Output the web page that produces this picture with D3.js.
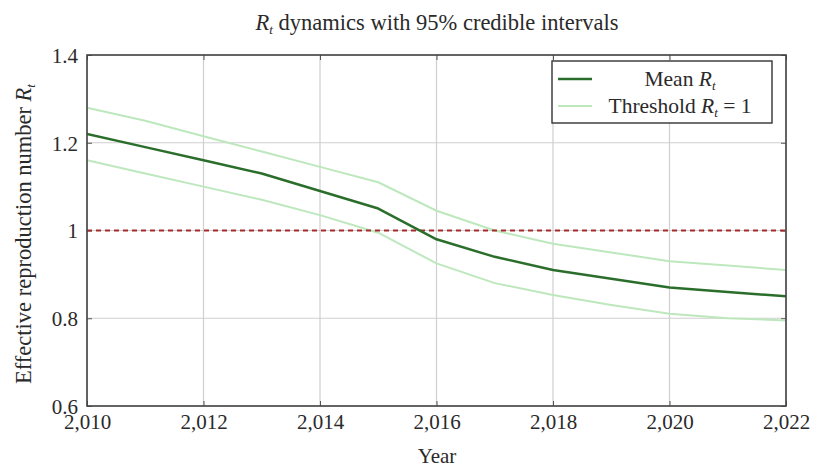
<!DOCTYPE html>
<html><head><meta charset="utf-8">
<script src="https://cdn.jsdelivr.net/npm/d3@7/dist/d3.min.js"></script>
<style>body{margin:0;background:#fff;} text{font-family:"Liberation Serif","DejaVu Serif",serif;}</style>
</head><body><svg id="c" width="813" height="467"></svg>
<script>
const years = [2010,2011,2012,2013,2014,2015,2016,2017,2018,2019,2020,2021,2022];
const meanRt = [1.22,1.19,1.16,1.13,1.09,1.05,0.98,0.94,0.91,0.89,0.87,0.86,0.85];
const upperRt = [1.28,1.25,1.215,1.18,1.145,1.11,1.045,1.00,0.97,0.95,0.93,0.92,0.91];
const lowerRt = [1.16,1.13,1.10,1.07,1.035,0.995,0.925,0.88,0.853,0.83,0.81,0.80,0.795];
const threshold = 1;
const xTicks = [2010,2012,2014,2016,2018,2020,2022];
const yTicks = [0.6,0.8,1,1.2,1.4];

const svg = d3.select("#c");
const m = {l:87, r:786, t:55, b:406};
const x = d3.scaleLinear().domain([2010,2022]).range([m.l,m.r]);
const y = d3.scaleLinear().domain([0.6,1.4]).range([m.b,m.t]);
const ink = "#2a2a2a";

// grid
svg.append("g").selectAll("line").data(xTicks).join("line")
  .attr("x1",d=>x(d)).attr("x2",d=>x(d)).attr("y1",m.t).attr("y2",m.b)
  .attr("stroke","#cfcfcf").attr("stroke-width",1.2);
svg.append("g").selectAll("line").data(yTicks).join("line")
  .attr("y1",d=>y(d)).attr("y2",d=>y(d)).attr("x1",m.l).attr("x2",m.r)
  .attr("stroke","#cfcfcf").attr("stroke-width",1.2);

// axes
const fmt = d3.format(",");
const xa = svg.append("g").attr("transform",`translate(0,${m.b})`)
  .call(d3.axisBottom(x).tickValues(xTicks).tickFormat(fmt).tickSize(-5).tickPadding(8));
const ya = svg.append("g").attr("transform",`translate(${m.l},0)`)
  .call(d3.axisLeft(y).tickValues(yTicks).tickFormat(d=>d3.format("")(d)).tickSize(-5).tickPadding(9));
svg.append("g").attr("transform",`translate(${m.r},0)`)
  .call(d3.axisRight(y).tickValues(yTicks).tickFormat("").tickSize(-5));
svg.append("g").attr("transform",`translate(0,${m.t})`)
  .call(d3.axisTop(x).tickValues(xTicks).tickFormat("").tickSize(-5));
svg.selectAll(".domain").remove();
svg.selectAll(".tick line").attr("stroke","#555");
xa.selectAll("text").attr("font-size",21).attr("fill",ink).attr("font-family","Liberation Serif");
ya.selectAll("text").attr("font-size",21).attr("fill",ink).attr("font-family","Liberation Serif").attr("dy","0.35em");

const line = d3.line().x((d,i)=>x(years[i])).y(d=>y(d));
svg.append("clipPath").attr("id","cp").append("rect")
  .attr("x",m.l).attr("y",m.t).attr("width",m.r-m.l).attr("height",m.b-m.t);
const plot = svg.append("g").attr("clip-path","url(#cp)");
plot.append("path").datum(upperRt).attr("d",line).attr("fill","none").attr("stroke","#bde8bd").attr("stroke-width",2);
plot.append("path").datum(lowerRt).attr("d",line).attr("fill","none").attr("stroke","#bde8bd").attr("stroke-width",2);
plot.append("line").attr("x1",m.l).attr("x2",m.r).attr("y1",y(threshold)).attr("y2",y(threshold))
  .attr("stroke","#a52a2a").attr("stroke-width",2).attr("stroke-dasharray","5,4");
plot.append("path").datum(meanRt).attr("d",line).attr("fill","none").attr("stroke","#2b6e2b").attr("stroke-width",2.5).attr("stroke-linejoin","round");

// frame
svg.append("rect").attr("x",m.l).attr("y",m.t).attr("width",m.r-m.l).attr("height",m.b-m.t)
  .attr("fill","none").attr("stroke","#444").attr("stroke-width",1.6);

// title
const t = svg.append("text").attr("x",437).attr("y",30).attr("text-anchor","middle").attr("font-size",22.5).attr("fill",ink);
t.append("tspan").attr("font-style","italic").text("R");
t.append("tspan").attr("font-style","italic").attr("font-size",13).attr("dy",4).text("t");
t.append("tspan").attr("dy",-4).text(" dynamics with 95% credible intervals");

// axis labels
svg.append("text").attr("x",437).attr("y",463).attr("text-anchor","middle").attr("font-size",21).attr("fill",ink).text("Year");
const yl = svg.append("text").attr("transform","translate(31,234) rotate(-90)").attr("text-anchor","middle").attr("font-size",22.5).attr("fill",ink);
yl.append("tspan").text("Effective reproduction number ");
yl.append("tspan").attr("font-style","italic").text("R");
yl.append("tspan").attr("font-style","italic").attr("font-size",13).attr("dy",4).text("t");

// legend
const lg = svg.append("g");
lg.append("rect").attr("x",552).attr("y",61).attr("width",220).attr("height",62).attr("fill","#fff").attr("stroke","#333").attr("stroke-width",1.4);
const legItems = [{label:["Mean ","R","t",""],color:"#2b6e2b",w:2.5,cy:79},{label:["Threshold ","R","t"," = 1"],color:"#bde8bd",w:2,cy:106}];
legItems.forEach(it=>{
  lg.append("line").attr("x1",558).attr("x2",592).attr("y1",it.cy).attr("y2",it.cy).attr("stroke",it.color).attr("stroke-width",it.w);
  const tx = lg.append("text").attr("x",680).attr("y",it.cy+7).attr("text-anchor","middle").attr("font-size",21.5).attr("fill",ink);
  tx.append("tspan").text(it.label[0]);
  tx.append("tspan").attr("font-style","italic").text(it.label[1]);
  tx.append("tspan").attr("font-style","italic").attr("font-size",13).attr("dy",4).text(it.label[2]);
  tx.append("tspan").attr("dy",-4).text(it.label[3]);
});
</script></body></html>
